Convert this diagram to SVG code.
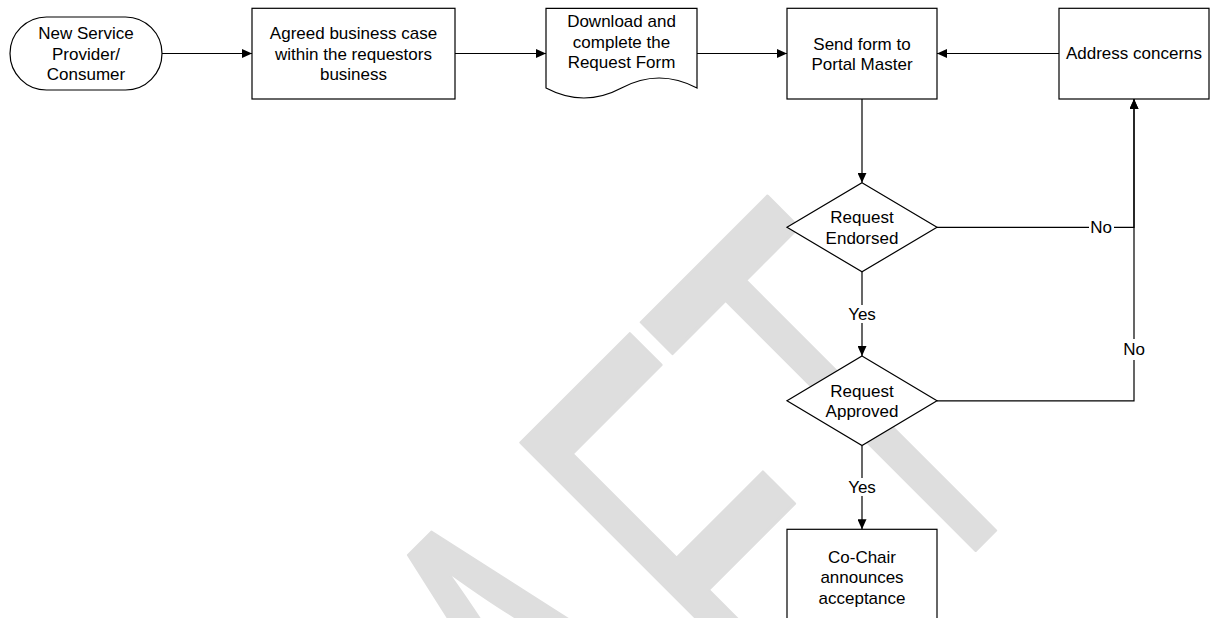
<svg xmlns="http://www.w3.org/2000/svg" width="1211" height="618" viewBox="0 0 1211 618">
  <style>
    .shape { fill: #ffffff; stroke: #000000; stroke-width: 1.2; }
    .conn { fill: none; stroke: #000000; stroke-width: 1.2; }
    .lbl { font-family: "Liberation Sans", Arial, sans-serif; font-size: 17px; fill: #000000; text-anchor: middle; }
    .lblbg { fill: #ffffff; stroke: none; }
    .wm { font-family: "Liberation Sans", Arial, sans-serif; font-size: 578px; fill: #dedede; stroke: #dedede; stroke-width: 3; stroke-linejoin: round; }
  </style>
  <defs>
    <marker id="arr" viewBox="0 0 10 9" refX="10" refY="4.5" markerWidth="10" markerHeight="9" markerUnits="userSpaceOnUse" orient="auto">
      <path d="M0,0 L10,4.5 L0,9 z" fill="#000000"/>
    </marker>
  </defs>
  <rect x="0" y="0" width="1211" height="618" fill="#ffffff"/>

  <g id="watermark" transform="translate(763,763) rotate(-45) scale(0.55,1)">
    <text class="wm" x="-1187 -770 -353 52 396" y="0">DRAFT</text>
  </g>

  <g id="connectors">
    <path class="conn" d="M162,53.5 H252" marker-end="url(#arr)"/>
    <path class="conn" d="M455,53.5 H546" marker-end="url(#arr)"/>
    <path class="conn" d="M697,53.5 H787" marker-end="url(#arr)"/>
    <path class="conn" d="M1059,53.5 H937" marker-end="url(#arr)"/>
    <path class="conn" d="M862,99 V182.8" marker-end="url(#arr)"/>
    <path class="conn" d="M862,271.8 V356" marker-end="url(#arr)"/>
    <path class="conn" d="M862,445.7 V529.3" marker-end="url(#arr)"/>
    <path class="conn" d="M937,227.3 H1134 V99" marker-end="url(#arr)"/>
    <path class="conn" d="M937,400.8 H1134 V99" marker-end="url(#arr)"/>
    <g id="labels">
      <rect class="lblbg" x="847" y="305" width="30" height="18"/>
      <text class="lbl" x="862" y="320">Yes</text>
      <rect class="lblbg" x="847" y="478" width="30" height="18"/>
      <text class="lbl" x="862" y="493">Yes</text>
      <rect class="lblbg" x="1089" y="220" width="25" height="15"/>
      <text class="lbl" x="1101" y="233.3">No</text>
      <rect class="lblbg" x="1122" y="339" width="24" height="21"/>
      <text class="lbl" x="1134" y="355">No</text>
    </g>
  </g>

  <g id="n-start">
    <rect class="shape" x="10" y="17" width="152" height="73" rx="36.5" ry="36.5"/>
    <text class="lbl" x="86" y="39"><tspan x="86" y="39">New Service</tspan><tspan x="86" y="59.5">Provider/</tspan><tspan x="86" y="80">Consumer</tspan></text>
  </g>

  <g id="n-business-case">
    <rect class="shape" x="252" y="8.3" width="203" height="90.7"/>
    <text class="lbl" x="353.5" y="39"><tspan x="353.5" y="39">Agreed business case</tspan><tspan x="353.5" y="59.5">within the requestors</tspan><tspan x="353.5" y="80">business</tspan></text>
  </g>

  <g id="n-download">
    <path class="shape" d="M546,8.3 H697 V88 Q659,68 621.5,88 T546,88 Z"/>
    <text class="lbl" x="621.5" y="27"><tspan x="621.5" y="27">Download and</tspan><tspan x="621.5" y="47.5">complete the</tspan><tspan x="621.5" y="68">Request Form</tspan></text>
  </g>

  <g id="n-send-form">
    <rect class="shape" x="787" y="8.3" width="150" height="90.7"/>
    <text class="lbl" x="862" y="49.5"><tspan x="862" y="49.5">Send form to</tspan><tspan x="862" y="70">Portal Master</tspan></text>
  </g>

  <g id="n-address">
    <rect class="shape" x="1059" y="8.3" width="150" height="90.7"/>
    <text class="lbl" x="1134" y="59">Address concerns</text>
  </g>

  <g id="n-endorsed">
    <path class="shape" d="M862,182.8 L937,227.3 L862,271.8 L787,227.3 Z"/>
    <text class="lbl" x="862" y="223.3"><tspan x="862" y="223.3">Request</tspan><tspan x="862" y="243.6">Endorsed</tspan></text>
  </g>

  <g id="n-approved">
    <path class="shape" d="M862,356 L937,400.8 L862,445.6 L787,400.8 Z"/>
    <text class="lbl" x="862" y="396.7"><tspan x="862" y="396.7">Request</tspan><tspan x="862" y="417.2">Approved</tspan></text>
  </g>

  <g id="n-cochair">
    <rect class="shape" x="787" y="529.3" width="150" height="95"/>
    <text class="lbl" x="862" y="562.5"><tspan x="862" y="562.5">Co-Chair</tspan><tspan x="862" y="583">announces</tspan><tspan x="862" y="603.5">acceptance</tspan></text>
  </g>
</svg>
